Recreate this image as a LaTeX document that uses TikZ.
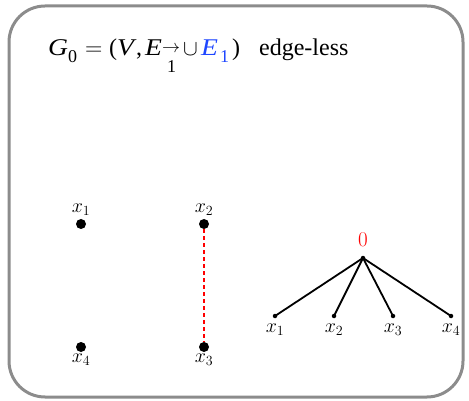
\RequirePackage{fix-cm}
\documentclass[tikz,border=0pt]{standalone}
\usepackage{graphicx}
\usepackage{fontspec}
\usepackage{amsmath}
\newfontfamily\titleserif{Liberation Serif}
\definecolor{eblue}{RGB}{30,70,255}
\definecolor{framegray}{RGB}{140,140,140}
\newcommand\tsz{\fontsize{24}{28}\selectfont}
\newcommand\ssz{\fontsize{18}{20}\selectfont}
\newcommand\csz{\fontsize{22}{24}\selectfont}
\newcommand\pbox[2]{\makebox[#1pt][l]{#2}}
\newcommand\wide[1]{\scalebox{1.15}[1.0]{\textit{#1}}}
\tikzset{
  bigdot/.style={circle,fill=black,inner sep=0pt,minimum size=10pt},
  smalldot/.style={circle,fill=black,inner sep=0pt,minimum size=4.5pt},
  vlabel/.style={inner sep=0pt,font=\fontsize{20}{22}\selectfont},
  treeedge/.style={line width=1.8pt},
  redge/.style={red,line width=1.6pt,dash pattern=on 4pt off 3pt},
}
\begin{document}
\begin{tikzpicture}[x=1pt,y=-1pt]
\useasboundingbox (0,0) rectangle (469,401);
\draw[framegray,line width=3pt,rounded corners=36pt] (9,6) rectangle (463,397);
\node[anchor=base west,inner sep=0pt] (title) at (48,56) {\titleserif\tsz
  \pbox{20}{\wide{G}}%
  \pbox{17}{\raisebox{-7pt}{\ssz 0}}%
  \pbox{24}{$=$}%
  \pbox{8}{(}%
  \pbox{19}{\wide{V}}%
  \pbox{9}{,}%
  \pbox{17}{\wide{E}}%
  \rlap{\raisebox{3pt}{\ssz$\rightarrow$}}%
  \pbox{5}{}%
  \pbox{16}{\raisebox{-17pt}{\ssz 1}}%
  \pbox{18}{\csz$\cup$}%
  \textcolor{eblue}{\pbox{19}{\wide{E}}\pbox{12}{\raisebox{-7pt}{\ssz 1}}}%
  \pbox{27}{)}%
  edge-less};
% left graph
\node[bigdot] (a1) at (81,224) {};
\node[bigdot] (a2) at (204,224) {};
\node[bigdot] (a3) at (204,347) {};
\node[bigdot] (a4) at (81,347) {};
\node[vlabel] (la1) at (81,210) {$x_1$};
\node[vlabel] (la2) at (204,210) {$x_2$};
\node[vlabel] (la3) at (204,360) {$x_3$};
\node[vlabel] (la4) at (81,360) {$x_4$};
\draw[redge] (a2) -- (a3);
% tree
\node[smalldot] (r) at (363,258) {};
\node[vlabel,red,font=\fontsize{21}{23}\selectfont] (lr) at (363,240) {$0$};
\node[smalldot] (t1) at (275,316) {};
\node[smalldot] (t2) at (334,316) {};
\node[smalldot] (t3) at (393,316) {};
\node[smalldot] (t4) at (451,316) {};
\node[vlabel] (lt1) at (275,330) {$x_1$};
\node[vlabel] (lt2) at (334,330) {$x_2$};
\node[vlabel] (lt3) at (393,330) {$x_3$};
\node[vlabel] (lt4) at (451,330) {$x_4$};
\foreach \t in {t1,t2,t3,t4} \draw[treeedge] (r.center) -- (\t.center);
\end{tikzpicture}
\end{document}
